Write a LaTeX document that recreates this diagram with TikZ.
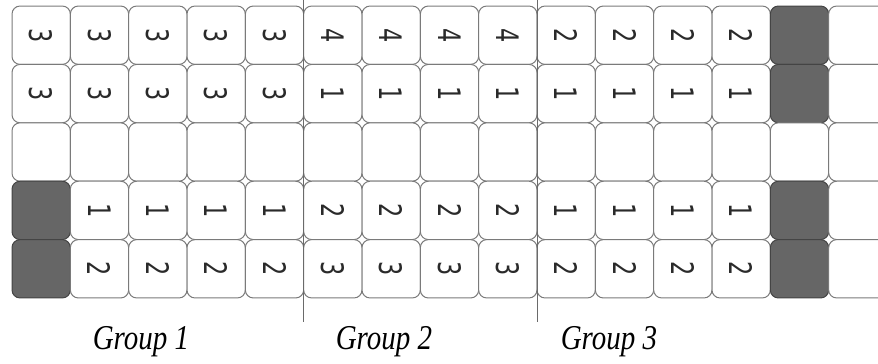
\documentclass[tikz,border=0pt]{standalone}
\usepackage{fontspec}
\setmainfont{Liberation Serif}
\newfontfamily\digitfont{DejaVu Sans}
\usepackage{graphicx}
\definecolor{cellline}{HTML}{7A7A7A}
\definecolor{grayfill}{HTML}{666666}
\definecolor{graydark}{HTML}{444444}
\definecolor{digitcol}{HTML}{2A2A2A}
\definecolor{divcol}{HTML}{6A6A6A}
\newcommand\dg[1]{\if#1G\else\if#1W\else{\color{digitcol}\digitfont\fontsize{31}{31}\selectfont\scalebox{0.72}[1]{#1}}\fi\fi}
\def\rowA{3,3,3,3,3,4,4,4,4,2,2,2,2,G,W}
\def\rowB{3,3,3,3,3,1,1,1,1,1,1,1,1,G,W}
\def\rowC{W,W,W,W,W,W,W,W,W,W,W,W,W,W,W}
\def\rowD{G,1,1,1,1,2,2,2,2,1,1,1,1,G,W}
\def\rowE{G,2,2,2,2,3,3,3,3,2,2,2,2,G,W}
\begin{document}
\begin{tikzpicture}[x=1pt,y=-1pt,
  cellbox/.style={draw=cellline, line width=1pt, rounded corners=8pt, fill=white,
    minimum size=58.33pt, inner sep=0pt, rotate=-90},
  cellG/.style={fill=grayfill, draw=graydark},
  cellW/.style={}, cell1/.style={}, cell2/.style={}, cell3/.style={}, cell4/.style={},
  divider/.style={draw=divcol, line width=1pt},
  grouplabel/.style={font=\itshape\fontsize{29}{29}\selectfont, inner sep=0pt}]
\useasboundingbox (0,0) rectangle (878,364);
\clip (0,0) rectangle (878,364);
\foreach \r in {0,...,4}{
  \edef\curlist{\ifcase\r\space\rowA\or\rowB\or\rowC\or\rowD\else\rowE\fi}
  \foreach \v [count=\c from 0] in \curlist{
    \node[cellbox, cell\v] (c-\r-\c) at ({41.17+58.333*\c},{35.2+58.4*\r}) {\dg{\v}};
  }
}
\coordinate (d1top) at (303.7,0);
\coordinate (d1bot) at (303.7,322);
\coordinate (d2top) at (537,0);
\coordinate (d2bot) at (537,322);
\draw[divider] (d1top) -- (d1bot);
\draw[divider] (d2top) -- (d2bot);
\node[grouplabel] (g1) at (141,342) {\scalebox{1}[1.2]{Group 1}};
\node[grouplabel] (g2) at (384,342) {\scalebox{1}[1.2]{Group 2}};
\node[grouplabel] (g3) at (609,342) {\scalebox{1}[1.2]{Group 3}};
\end{tikzpicture}
\end{document}
